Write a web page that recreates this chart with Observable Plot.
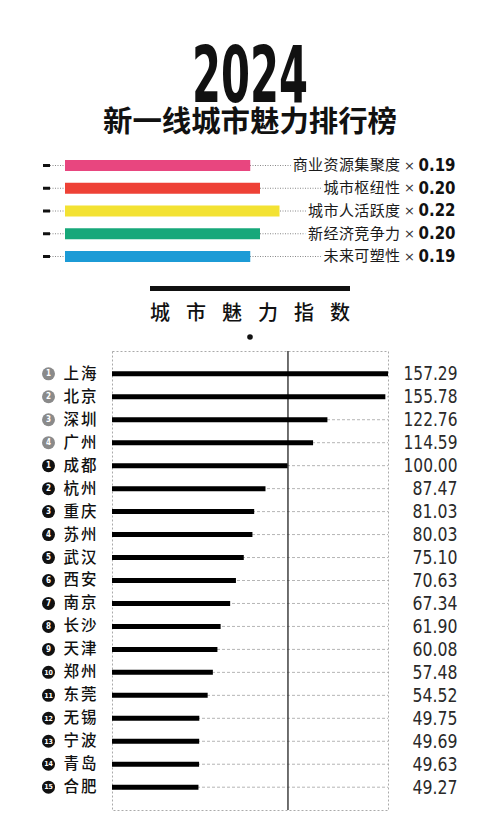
<!DOCTYPE html>
<html>
<head>
<meta charset="utf-8">
<script src="https://cdn.jsdelivr.net/npm/d3@7"></script>
<script src="https://cdn.jsdelivr.net/npm/@observablehq/plot@0.6"></script>
<style>
  html, body { margin: 0; padding: 0; background: #fff; }
  #page { position: relative; width: 500px; height: 821px; overflow: hidden; background: #fff; }
  #page > * { position: absolute; left: 0; }
  #header { top: 0; }
  #legend { top: 150px; }
  #main { top: 340px; }
  .cjk { font-family: "Noto Sans CJK SC", "Noto Sans", sans-serif; }
</style>
</head>
<body>
<div id="page">
  <svg id="header" width="500" height="345" xmlns="http://www.w3.org/2000/svg">
    <text x="250" y="102" text-anchor="middle" font-family="'Liberation Sans Narrow','DejaVu Sans Condensed','DejaVu Sans',sans-serif" font-weight="bold" font-size="79" textLength="116" lengthAdjust="spacingAndGlyphs" fill="#111">2024</text>
    <text x="250" y="132" text-anchor="middle" class="cjk" font-weight="bold" font-size="29" textLength="294" lengthAdjust="spacingAndGlyphs" fill="#111">新一线城市魅力排行榜</text>
    <rect x="150" y="286" width="200" height="5" fill="#111"></rect>
    <text x="150" y="320" class="cjk" font-weight="500" font-size="20" textLength="200" lengthAdjust="spacing" fill="#111">城市魅力指数</text>
    <circle cx="250" cy="337" r="2.8" fill="#111"></circle>
  </svg>
</div>
<script>
// ---- Legend data (weights of the index components)
const factors = ["商业资源集聚度", "城市枢纽性", "城市人活跃度", "新经济竞争力", "未来可塑性"];
const weights = [0.19, 0.20, 0.22, 0.20, 0.19];
const factorColors = ["#e8467f", "#ee4136", "#f3e233", "#17a87a", "#1c9bd6"];

// ---- Main chart data
const cities = ["上海", "北京", "深圳", "广州", "成都", "杭州", "重庆", "苏州", "武汉", "西安", "南京", "长沙", "天津", "郑州", "东莞", "无锡", "宁波", "青岛", "合肥"];
const scores = [157.29, 155.78, 122.76, 114.59, 100.00, 87.47, 81.03, 80.03, 75.10, 70.63, 67.34, 61.90, 60.08, 57.48, 54.52, 49.75, 49.69, 49.63, 49.27];
const ranks = [1, 2, 3, 4, 1, 2, 3, 4, 5, 6, 7, 8, 9, 10, 11, 12, 13, 14, 15];
const tiers = ["一线", "一线", "一线", "一线", "新一线", "新一线", "新一线", "新一线", "新一线", "新一线", "新一线", "新一线", "新一线", "新一线", "新一线", "新一线", "新一线", "新一线", "新一线"];
const referenceScore = 100;

const legendData = factors.map((f, i) => ({factor: f, weight: weights[i], color: factorColors[i]}));
const data = cities.map((c, i) => ({city: c, score: scores[i], rank: ranks[i], tier: tiers[i]}));

const cjk = "Noto Sans CJK SC, Noto Sans, sans-serif";
const num = "Liberation Sans Narrow, DejaVu Sans Condensed, DejaVu Sans, sans-serif";

// ---- Legend chart
const legend = Plot.plot({
  width: 500,
  height: 120,
  margin: 0,
  x: {domain: [0, 0.22], range: [65, 279.5], axis: null},
  y: {type: "point", domain: factors, range: [15, 106], padding: 0, round: false, axis: null},
  marks: [
    Plot.ruleY(legendData, {y: "factor", stroke: "#111", strokeWidth: 3, insetLeft: 43, insetRight: 450}),
    Plot.ruleY(legendData, {y: "factor", stroke: "#888", strokeWidth: 1, strokeDasharray: "1,1.5", insetLeft: 50, insetRight: 102}),
    Plot.ruleY(legendData, {y: "factor", x1: 0, x2: "weight", stroke: "color", strokeWidth: 11}),
    Plot.text(legendData, {y: "factor", text: "factor", frameAnchor: "right", dx: -100, textAnchor: "end", fontSize: 15, fontFamily: cjk, fill: "#1a1a1a", stroke: "white", strokeWidth: 7}),
    Plot.text(legendData, {y: "factor", text: () => "×", frameAnchor: "right", dx: -91, textAnchor: "middle", fontSize: 13, fontFamily: "DejaVu Sans, sans-serif", fill: "#333"}),
    Plot.text(legendData, {y: "factor", text: d => d.weight.toFixed(2), frameAnchor: "right", dx: -45, textAnchor: "end", fontSize: 17, fontWeight: "bold", fontFamily: num, fill: "#111"})
  ]
});
legend.id = "legend";
document.getElementById("page").appendChild(legend);

// ---- Main chart
const main = Plot.plot({
  width: 500,
  height: 481,
  marginTop: 11,
  marginBottom: 11,
  marginLeft: 112,
  marginRight: 112,
  x: {domain: [0, 157.29], axis: null},
  y: {type: "point", domain: cities, range: [33.3, 446.7], padding: 0, round: false, axis: null},
  marks: [
    Plot.frame({stroke: "#aaa", strokeDasharray: "2,2"}),
    Plot.ruleY(data, {y: "city", stroke: "#b5b5b5", strokeDasharray: "3,2"}),
    Plot.ruleX([referenceScore], {stroke: "#222", strokeWidth: 1.3}),
    Plot.ruleY(data, {y: "city", x1: 0, x2: "score", stroke: "#000", strokeWidth: 5}),
    Plot.dot(data, {y: "city", frameAnchor: "left", dx: -64, r: 6.5, fill: d => d.tier === "一线" ? "#8a8a8a" : "#111"}),
    Plot.text(data, {y: "city", text: "rank", frameAnchor: "left", dx: -64, textAnchor: "middle", fontSize: d => d.rank >= 10 ? 7 : 8, fontWeight: "bold", fontFamily: num, fill: "white"}),
    Plot.text(data, {y: "city", text: "city", frameAnchor: "left", dx: -49, textAnchor: "start", fontSize: 15.5, fontFamily: cjk, fontWeight: "500", fill: "#111"}),
    Plot.text(data, {y: "city", text: d => d.score.toFixed(2), frameAnchor: "right", dx: 69, textAnchor: "end", fontSize: 20, fontFamily: num, fill: "#2a2a2a"})
  ]
});
main.id = "main";
document.getElementById("page").appendChild(main);

// typographic tweaks: condensed digits and letter spacing
const textGroups = main.querySelectorAll('g[aria-label="text"]');
textGroups[1].setAttribute("letter-spacing", "2");
textGroups[2].querySelectorAll("text").forEach(t => {
  t.setAttribute("textLength", 9 * t.textContent.length);
  t.setAttribute("lengthAdjust", "spacingAndGlyphs");
});
const lg = legend.querySelectorAll('g[aria-label="text"]');
lg[0].setAttribute("letter-spacing", "0.4");
lg[2].querySelectorAll("text").forEach(t => {
  t.setAttribute("textLength", 37);
  t.setAttribute("lengthAdjust", "spacingAndGlyphs");
});
</script>
</body>
</html>
